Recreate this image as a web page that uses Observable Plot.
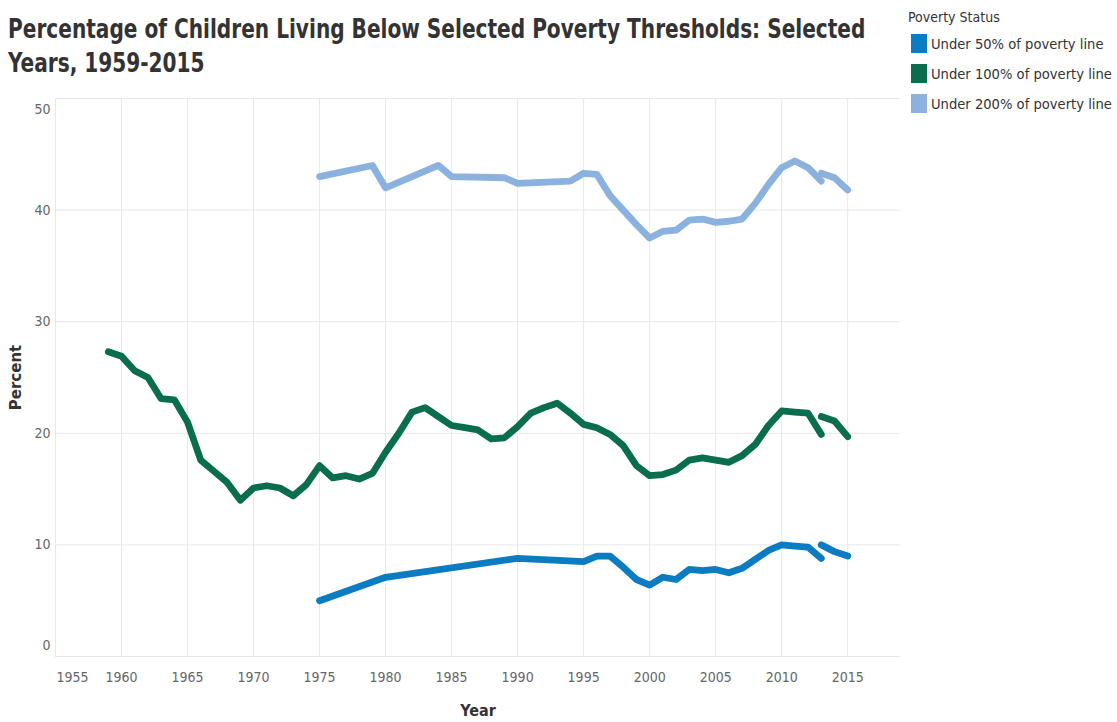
<!DOCTYPE html>
<html>
<head>
<meta charset="utf-8">
<script src="https://cdn.jsdelivr.net/npm/d3@7"></script>
<script src="https://cdn.jsdelivr.net/npm/@observablehq/plot@0.6"></script>
<style>
  body { margin: 0; background: #fff; }
  #fig { position: relative; width: 1117px; height: 722px; overflow: hidden; }
  #title {
    position: absolute; left: 8px; top: 12px;
    font-family: "DejaVu Sans Condensed", "DejaVu Sans", sans-serif;
    font-weight: bold; font-size: 26px; line-height: 34px; color: #333;
    transform-origin: left top; transform: scaleX(0.86); white-space: nowrap;
  }
  #legend {
    position: absolute; left: 908px; top: 6px; z-index: 2;
    font-family: "DejaVu Sans Condensed", "DejaVu Sans", sans-serif;
    font-size: 14.6px; color: #333;
  }
  #legend .head { height: 22px; line-height: 22px; font-size: 14px; }
  #legend .item { display: flex; align-items: center; height: 30px; }
  #legend .sw { width: 16px; height: 19px; margin-left: 3px; margin-right: 4px; }
  #chart { position: absolute; left: 0; top: 90px; z-index: 1; }
</style>
</head>
<body>
<div id="fig">
  <div id="title">Percentage of Children Living Below Selected Poverty Thresholds: Selected<br>Years, 1959-2015</div>
  <div id="chart"></div>
  <div id="legend"></div>
</div>
<script>
// Series names and colours
const seriesNames = ["Under 50% of poverty line", "Under 100% of poverty line", "Under 200% of poverty line"];
const seriesColors = ["#0b7bc2", "#0a6d4e", "#8bb2de"];

// Under 50% — original CPS estimates, then the redesigned 2013 estimate onward
const years50a = [1975, 1980, 1990, 1995, 1996, 1997, 1998, 1999, 2000, 2001, 2002, 2003, 2004, 2005, 2006, 2007, 2008, 2009, 2010, 2011, 2012, 2013];
const values50a = [5.0, 7.1, 8.8, 8.5, 9.0, 9.0, 8.0, 6.9, 6.4, 7.1, 6.9, 7.8, 7.7, 7.8, 7.5, 7.9, 8.7, 9.5, 10.0, 9.9, 9.8, 8.8];
const years50b = [2013, 2014, 2015];
const values50b = [10.0, 9.4, 9.0];

// Under 100%
const years100a = [1959, 1960, 1961, 1962, 1963, 1964, 1965, 1966, 1967, 1968, 1969, 1970, 1971, 1972, 1973, 1974,
  1975, 1976, 1977, 1978, 1979, 1980, 1981, 1982, 1983, 1984, 1985, 1986, 1987, 1988, 1989, 1990, 1991, 1992,
  1993, 1994, 1995, 1996, 1997, 1998, 1999, 2000, 2001, 2002, 2003, 2004, 2005, 2006, 2007, 2008, 2009, 2010,
  2011, 2012, 2013];
const values100a = [27.3, 26.9, 25.6, 25.0, 23.1, 23.0, 21.0, 17.6, 16.6, 15.6, 14.0, 15.1, 15.3, 15.1, 14.4, 15.4,
  17.1, 16.0, 16.2, 15.9, 16.4, 18.3, 20.0, 21.9, 22.3, 21.5, 20.7, 20.5, 20.3, 19.5, 19.6, 20.6, 21.8, 22.3,
  22.7, 21.8, 20.8, 20.5, 19.9, 18.9, 17.1, 16.2, 16.3, 16.7, 17.6, 17.8, 17.6, 17.4, 18.0, 19.0, 20.7, 22.0,
  21.9, 21.8, 19.9];
const years100b = [2013, 2014, 2015];
const values100b = [21.5, 21.1, 19.7];

// Under 200%
const years200a = [1975, 1979, 1980, 1984, 1985, 1989, 1990, 1994, 1995, 1996, 1997, 1998, 1999, 2000, 2001, 2002,
  2003, 2004, 2005, 2006, 2007, 2008, 2009, 2010, 2011, 2012, 2013];
const values200a = [43.0, 44.0, 42.0, 44.0, 43.0, 42.9, 42.4, 42.6, 43.3, 43.2, 41.3, 40.0, 38.7, 37.5, 38.1, 38.2,
  39.1, 39.2, 38.9, 39.0, 39.2, 40.6, 42.3, 43.8, 44.4, 43.8, 42.6];
const years200b = [2013, 2014, 2015];
const values200b = [43.3, 42.9, 41.8];

// Axis ticks
const xTicks = [1955, 1960, 1965, 1970, 1975, 1980, 1985, 1990, 1995, 2000, 2005, 2010, 2015];
const yTicks = [0, 10, 20, 30, 40, 50];

// Long table: one row per point, with a segment key so the 2013 break is kept
function rowsFor(series, segment, years, values) {
  return years.map((year, i) => ({series, segment: series + segment, year, value: values[i]}));
}
const rows = [
  ...rowsFor(seriesNames[0], "a", years50a, values50a),
  ...rowsFor(seriesNames[0], "b", years50b, values50b),
  ...rowsFor(seriesNames[1], "a", years100a, values100a),
  ...rowsFor(seriesNames[1], "b", years100b, values100b),
  ...rowsFor(seriesNames[2], "a", years200a, values200a),
  ...rowsFor(seriesNames[2], "b", years200b, values200b)
];

// Legend
const legend = document.getElementById("legend");
legend.innerHTML = `<div class="head">Poverty Status</div>` +
  seriesNames.map((n, i) => `<div class="item"><span class="sw" style="background:${seriesColors[i]}"></span><span>${n}</span></div>`).join("");

const tickFont = "DejaVu Sans Condensed, DejaVu Sans, sans-serif";
const yearFormat = d => String(d);

const chart = Plot.plot({
  width: 1117,
  height: 632,
  marginLeft: 55,
  marginRight: 217,
  marginTop: 8,
  marginBottom: 66,
  style: {fontFamily: tickFont, fontSize: "14px", color: "#666", background: "transparent"},
  x: {domain: [1955, 2019], label: null},
  y: {domain: [0, 50], label: null},
  color: {domain: seriesNames, range: seriesColors},
  marks: [
    Plot.gridX(xTicks, {stroke: "#e8e8e8", strokeOpacity: 1}),
    Plot.gridY(yTicks, {stroke: "#e8e8e8", strokeOpacity: 1}),
    Plot.axisX(xTicks.slice(1), {tickSize: 0, tickPadding: 16, fill: "#666", tickFormat: yearFormat, label: null}),
    Plot.axisX([xTicks[0]], {tickSize: 0, tickPadding: 16, fill: "#666", textAnchor: "start", dx: 1, tickFormat: yearFormat, label: null}),
    Plot.axisY(yTicks.slice(1, -1), {tickSize: 0, tickPadding: 5, fill: "#666", label: null}),
    Plot.axisY([yTicks[yTicks.length - 1]], {tickSize: 0, tickPadding: 5, fill: "#666", dy: 11, label: null}),
    Plot.axisY([yTicks[0]], {tickSize: 0, tickPadding: 5, fill: "#666", dy: -11, label: null}),
    Plot.line(rows, {
      x: "year", y: "value", z: "segment", stroke: "series",
      strokeWidth: 6.8, strokeLinecap: "round", strokeLinejoin: "round"
    }),
    Plot.text(["Year"], {
      frameAnchor: "bottom", lineAnchor: "middle", dy: 54, fill: "#333", fontWeight: "bold", fontSize: 16,
      fontFamily: tickFont
    }),
    Plot.text(["Percent"], {
      frameAnchor: "left", textAnchor: "middle", dx: -39, rotate: -90, fill: "#333", fontWeight: "bold", fontSize: 15,
      fontFamily: "DejaVu Sans, sans-serif"
    })
  ]
});
document.getElementById("chart").append(chart);
</script>
</body>
</html>
